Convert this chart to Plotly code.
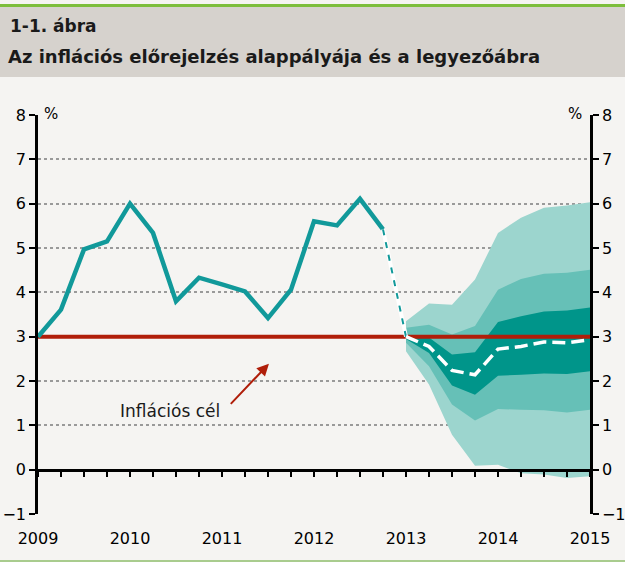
import plotly.graph_objects as go

# ---- data ----
hist_x = [2009.0, 2009.25, 2009.5, 2009.75, 2010.0, 2010.25, 2010.5, 2010.75,
          2011.0, 2011.25, 2011.5, 2011.75, 2012.0, 2012.25, 2012.5, 2012.75]
hist_y = [3.0, 3.61, 4.97, 5.15, 6.0, 5.34, 3.8, 4.33,
          4.18, 4.02, 3.42, 4.06, 5.6, 5.51, 6.11, 5.42]

link_x = [2012.75, 2013.0]
link_y = [5.42, 3.0]

fc_x = [2013.0, 2013.25, 2013.5, 2013.75, 2014.0, 2014.25, 2014.5, 2014.75, 2015.0]
fc_y = [3.0, 2.78, 2.24, 2.14, 2.72, 2.78, 2.88, 2.86, 2.93]

outer_up = [3.35, 3.75, 3.72, 4.29, 5.34, 5.68, 5.91, 5.96, 6.03]
mid_up = [3.2, 3.27, 3.05, 3.24, 4.06, 4.3, 4.42, 4.44, 4.51]
inner_up = [3.05, 2.98, 2.6, 2.65, 3.33, 3.46, 3.57, 3.59, 3.66]
inner_lo = [2.95, 2.63, 1.9, 1.69, 2.12, 2.14, 2.17, 2.16, 2.22]
mid_lo = [2.86, 2.33, 1.47, 1.11, 1.37, 1.35, 1.34, 1.29, 1.35]
outer_lo = [2.67, 1.92, 0.79, 0.09, 0.11, -0.08, -0.11, -0.19, -0.15]

target_x = [2009.0, 2015.0]
target_y = [3.0, 3.0]

year_ticks = [2009, 2010, 2011, 2012, 2013, 2014, 2015]
year_labels = ["2009", "2010", "2011", "2012", "2013", "2014", "2015"]

title1 = "1-1. ábra"
title2 = "Az inflációs előrejelzés alappályája és a legyezőábra"
target_label = "Inflációs cél"

# ---- style ----
FONT = "DejaVu Sans"
BG = "#F5F4F2"
TEAL = "#11999A"
LIGHT = "#9CD5CE"
MID = "#66C0B7"
DARK = "#00958A"
RED = "#B01E0A"

fig = go.Figure()

def band(up, lo, color):
    fig.add_trace(go.Scatter(
        x=fc_x + fc_x[::-1], y=up + lo[::-1], fill="toself",
        fillcolor=color, line=dict(width=0), mode="lines",
        showlegend=False, hoverinfo="skip"))

band(outer_up, outer_lo, LIGHT)
band(mid_up, mid_lo, MID)
band(inner_up, inner_lo, DARK)

fig.add_trace(go.Scatter(x=target_x, y=target_y, mode="lines",
                         line=dict(color=RED, width=4), showlegend=False))
fig.add_trace(go.Scatter(x=hist_x, y=hist_y, mode="lines",
                         line=dict(color=TEAL, width=4.5), showlegend=False))
fig.add_trace(go.Scatter(x=link_x, y=link_y, mode="lines",
                         line=dict(color="white", width=4), showlegend=False))
fig.add_trace(go.Scatter(x=link_x, y=link_y, mode="lines",
                         line=dict(color=TEAL, width=2, dash="6px,7px"), showlegend=False))
fig.add_trace(go.Scatter(x=fc_x, y=fc_y, mode="lines",
                         line=dict(color="white", width=3.5, dash="13px,6px"), showlegend=False))

# dummy traces for the secondary axes
fig.add_trace(go.Scatter(x=[2009], y=[None], xaxis="x", yaxis="y2",
                         showlegend=False, hoverinfo="skip"))
fig.add_trace(go.Scatter(x=[2009], y=[None], xaxis="x2", yaxis="y",
                         showlegend=False, hoverinfo="skip"))

yax = dict(range=[-1, 8], dtick=1, tick0=0, showline=True, linecolor="black",
           linewidth=2.5, ticks="outside", ticklen=6, tickwidth=2, tickcolor="black",
           tickfont=dict(family=FONT, size=16, color="black"), zeroline=False,
           automargin=False)

fig.update_layout(
    width=625, height=562,
    margin=dict(l=38, r=35, t=115, b=48, autoexpand=False),
    paper_bgcolor=BG, plot_bgcolor=BG,
    showlegend=False,
    xaxis=dict(range=[2009, 2015], tickvals=year_ticks, ticktext=year_labels,
               showline=False, showgrid=False, zeroline=False, automargin=False,
               ticks="outside", ticklen=10, tickcolor="rgba(0,0,0,0)",
               tickfont=dict(family=FONT, size=16, color="black")),
    xaxis2=dict(range=[2009, 2015], overlaying="x", anchor="free", position=1/9,
                tick0=2009, dtick=0.25, showticklabels=False, showgrid=False,
                zeroline=False, showline=True, linecolor="black", linewidth=2.5,
                ticks="outside", ticklen=6, tickwidth=2, tickcolor="black",
                automargin=False),
    yaxis=dict(**yax, showgrid=True, gridcolor="#9a9a9a", gridwidth=1.5, griddash="dot"),
    yaxis2=dict(**yax, overlaying="y", side="right", anchor="x", showgrid=False),
    shapes=[
        dict(type="rect", xref="paper", yref="paper", x0=-0.08, x1=1.08,
             y0=(514 - 77) / 399, y1=(514 - 7) / 399, fillcolor="#D6D2CD",
             line=dict(width=0), layer="below"),
        dict(type="rect", xref="paper", yref="paper", x0=-0.08, x1=1.08,
             y0=(514 - 7) / 399, y1=(514 - 4) / 399, fillcolor="#7DBE3C",
             line=dict(width=0), layer="below"),
        dict(type="rect", xref="paper", yref="paper", x0=-0.08, x1=1.08,
             y0=(514 - 563) / 399, y1=(514 - 560) / 399, fillcolor="#A9CC8E",
             line=dict(width=0), layer="below"),
    ],
    annotations=[
        dict(text="<b>" + title1 + "</b>", xref="paper", yref="paper",
             x=(8 - 38) / 552, y=(514 - 26) / 399, xanchor="left", yanchor="middle",
             showarrow=False, font=dict(family=FONT, size=17, color="#1a1a1a")),
        dict(text="<b>" + title2 + "</b>", xref="paper", yref="paper",
             x=(6 - 38) / 552, y=(514 - 57) / 399, xanchor="left", yanchor="middle",
             showarrow=False, font=dict(family=FONT, size=18, color="#1a1a1a")),
        dict(text="%", xref="paper", yref="paper", x=(42 - 38) / 552, y=(514 - 103) / 399,
             showarrow=False, font=dict(family=FONT, size=15, color="black")),
        dict(text="%", xref="paper", yref="paper", x=(584 - 38) / 552, y=(514 - 103) / 399,
             showarrow=False, font=dict(family=FONT, size=15, color="black")),
        dict(text=target_label, x=2011.0, y=1.33, xref="x", yref="y",
             xanchor="right", yanchor="middle", showarrow=False,
             font=dict(family=FONT, size=17, color="#1a1a1a")),
        dict(text="", x=2011.51, y=2.39, ax=2011.08, ay=1.45, xref="x", yref="y",
             axref="x", ayref="y", showarrow=True, arrowhead=2, arrowsize=1.2,
             arrowwidth=2, arrowcolor=RED),
    ],
)

fig.write_html("out.html", config={"displayModeBar": False},
               post_script="document.body.style.margin='0';document.body.style.overflow='hidden';")
